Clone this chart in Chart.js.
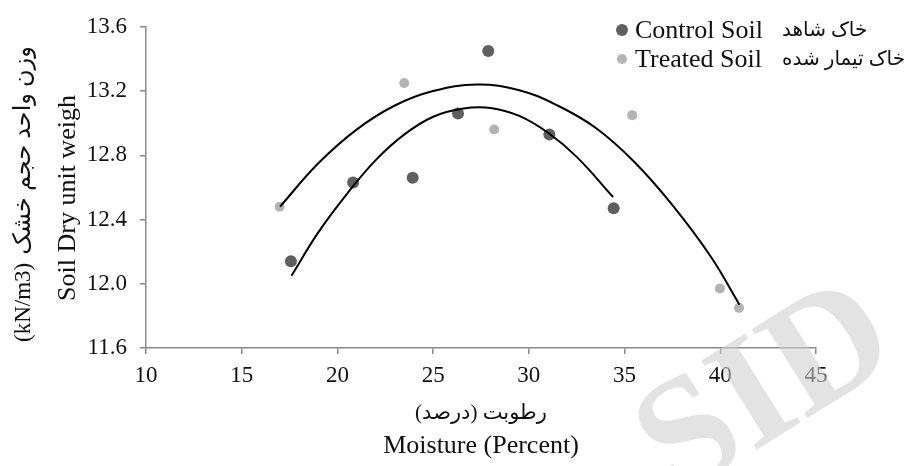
<!DOCTYPE html>
<html>
<head>
<meta charset="utf-8">
<script src="https://cdn.jsdelivr.net/npm/chart.js@4"></script>
<style>
  html, body { margin: 0; padding: 0; background: #fff; }
  #wrap { width: 908px; height: 466px; }
</style>
</head>
<body>
<div id="wrap"><canvas id="chart"></canvas></div>
<script>
// moisture (%) and dry unit weight (kN/m3)
const controlX = [17.57, 20.82, 23.93, 26.30, 27.88, 31.07, 34.43];
const controlY = [12.14, 12.63, 12.66, 13.06, 13.45, 12.93, 12.47];
const treatedX = [16.98, 23.49, 28.19, 35.40, 39.98, 40.98];
const treatedY = [12.48, 13.25, 12.96, 13.05, 11.97, 11.85];

// trend curves, sampled along the drawn lines
const controlFitX = [17.6, 19, 20.5, 22, 23.5, 25, 26.5, 28, 29.5, 31, 32.5, 34.4];
const controlFitY = [12.05, 12.32, 12.56, 12.77, 12.93, 13.04, 13.09, 13.095, 13.045, 12.94, 12.79, 12.54];
const treatedFitX = [17, 19, 21, 23, 25, 27.3, 29.5, 31.5, 33.5, 35.5, 37.5, 39.5, 41];
const treatedFitY = [12.48, 12.75, 12.96, 13.11, 13.20, 13.24, 13.205, 13.11, 12.97, 12.76, 12.49, 12.17, 11.87];

const xTicks = [10, 15, 20, 25, 30, 35, 40, 45];
const yTicks = [11.6, 12.0, 12.4, 12.8, 13.2, 13.6];

const seriesNames = ["Control Soil", "Treated Soil"];
const seriesNamesFa = ["خاک شاهد", "خاک تیمار شده"];
const xTitle = "Moisture (Percent)";
const xTitleFa = "رطوبت (درصد)";
const yTitle = "Soil Dry unit weigh";
const yUnit = "(kN/m3)";
const yTitleFa = "وزن واحد حجم خشک";

const darkGrey = "#5f5f5f";
const lightGrey = "#b4b4b4";
const axisGrey = "#898989";
const serif = '"Liberation Serif", "DejaVu Sans"';

const toPoints = (xs, ys) => xs.map((x, i) => ({ x: x, y: ys[i] }));

// titles, legend and the watermark are painted by hand
const decorations = {
  id: "decorations",
  afterDraw(chart) {
    const ctx = chart.ctx;
    const area = chart.chartArea;
    const midX = (area.left + area.right) / 2;
    ctx.save();
    ctx.fillStyle = "#111";
    ctx.textBaseline = "middle";

    // x titles
    ctx.textAlign = "center";
    ctx.direction = "rtl";
    ctx.font = "21px " + serif;
    ctx.fillText(xTitleFa, midX, 413);
    ctx.direction = "ltr";
    ctx.font = "26px " + serif;
    ctx.fillText(xTitle, midX, 446);

    // y titles (rotated, reading bottom to top)
    ctx.save();
    ctx.translate(24, 342);
    ctx.rotate(-Math.PI / 2);
    ctx.textAlign = "left";
    ctx.font = "23px " + serif;
    ctx.fillText(yUnit, 0, 0);
    const unitW = ctx.measureText(yUnit).width;
    ctx.font = "24px " + serif;
    ctx.fillText(yTitleFa, unitW + 8, 0);
    ctx.restore();
    ctx.save();
    ctx.translate(68, 198);
    ctx.rotate(-Math.PI / 2);
    ctx.textAlign = "center";
    ctx.font = "26px " + serif;
    ctx.fillText(yTitle, 0, 0);
    ctx.restore();

    // legend
    const colors = [darkGrey, lightGrey];
    const radii = [6, 5];
    const rows = [31, 60];
    ctx.textAlign = "left";
    seriesNames.forEach((name, i) => {
      ctx.fillStyle = colors[i];
      ctx.beginPath();
      ctx.arc(622, rows[i] - 1, radii[i], 0, Math.PI * 2);
      ctx.fill();
      ctx.fillStyle = "#111";
      ctx.font = "26px " + serif;
      ctx.fillText(name, 635, rows[i]);
      ctx.font = "20px " + serif;
      ctx.fillText(seriesNamesFa[i], 782, rows[i]);
    });

    // watermark
    ctx.save();
    ctx.translate(768, 394);
    ctx.rotate(-32 * Math.PI / 180);
    ctx.textAlign = "center";
    ctx.font = 'bold 160px "Liberation Serif"';
    ctx.fillStyle = "rgba(207, 207, 207, 0.58)";
    ctx.fillText("SID", 0, 0);
    ctx.restore();

    ctx.restore();
  },
};

new Chart(document.getElementById("chart"), {
  type: "scatter",
  data: {
    datasets: [
      {
        label: "control fit",
        data: toPoints(controlFitX, controlFitY),
        showLine: true,
        borderColor: "#000",
        borderWidth: 2,
        pointRadius: 0,
        tension: 0.4,
        order: 0,
      },
      {
        label: "treated fit",
        data: toPoints(treatedFitX, treatedFitY),
        showLine: true,
        borderColor: "#000",
        borderWidth: 2,
        pointRadius: 0,
        tension: 0.4,
        order: 0,
      },
      {
        label: seriesNames[1],
        data: toPoints(treatedX, treatedY),
        backgroundColor: lightGrey,
        borderWidth: 0,
        pointRadius: 5,
        order: 1,
      },
      {
        label: seriesNames[0],
        data: toPoints(controlX, controlY),
        backgroundColor: darkGrey,
        borderWidth: 0,
        pointRadius: 6,
        order: 1,
      },
    ],
  },
  options: {
    responsive: true,
    maintainAspectRatio: false,
    animation: false,
    layout: { padding: { top: 24, right: 92, left: 0, bottom: 0 } },
    plugins: {
      legend: { display: false },
      tooltip: { enabled: false },
    },
    scales: {
      x: {
        type: "linear",
        min: 10,
        max: 45,
        afterFit: (s) => { s.height = 118; },
        afterBuildTicks: (s) => { s.ticks = xTicks.map((v) => ({ value: v })); },
        border: { color: axisGrey, width: 1.5 },
        grid: { drawOnChartArea: false, color: axisGrey, lineWidth: 1.5, tickLength: 6 },
        ticks: { color: "#111", padding: 8, font: { family: serif, size: 23 } },
      },
      y: {
        type: "linear",
        min: 11.6,
        max: 13.6,
        afterFit: (s) => { s.width = 146; },
        afterBuildTicks: (s) => { s.ticks = yTicks.map((v) => ({ value: v })); },
        border: { color: axisGrey, width: 1.5 },
        grid: { drawOnChartArea: false, color: axisGrey, lineWidth: 1.5, tickLength: 6 },
        ticks: {
          color: "#111",
          padding: 13,
          font: { family: serif, size: 23 },
          callback: (v) => Number(v).toFixed(1),
        },
      },
    },
  },
  plugins: [decorations],
});
</script>
</body>
</html>
